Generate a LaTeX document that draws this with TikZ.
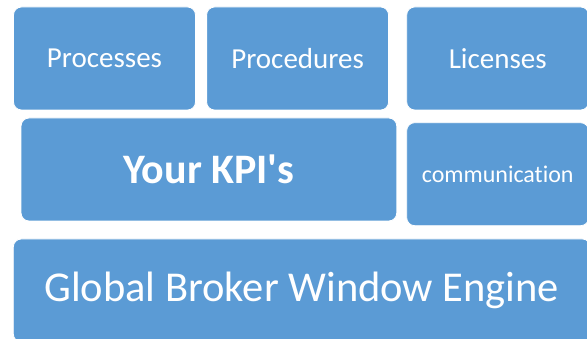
\documentclass[tikz,border=0pt]{standalone}
\usepackage{fontspec}
\setmainfont{Carlito}[Ligatures={NoCommon}]
\definecolor{tile}{HTML}{5B9BD5}
\tikzset{
  tilebox/.style={draw=white, line width=0.8pt, fill=tile, rounded corners=8pt,
    text=white, inner sep=0pt, minimum height=103pt},
}
\begin{document}
\begin{tikzpicture}[x=1pt,y=1pt]
\useasboundingbox (0,0) rectangle (587,339);
\clip (0,0) rectangle (587,339);
\fill[white] (0,0) rectangle (587,339);
\node[tilebox, minimum width=182pt, font=\fontsize{29}{32}\selectfont] (proc) at (104.5,280.5) {Processes};
\node[tilebox, minimum width=182pt, font=\fontsize{29}{32}\selectfont] (procd) at (297.6,280.5) {Procedures};
\node[tilebox, minimum width=182pt, font=\fontsize{29}{32}\selectfont] (lic) at (497.7,280.5) {Licenses};
\node[tilebox, minimum width=375.7pt, font=\fontsize{42}{47}\selectfont\bfseries] (kpi) at (208.9,169.5) {Your KPI\textquotesingle s};
\node[tilebox, minimum width=182pt, font=\fontsize{24}{28}\selectfont] (comm) at (497.7,164.8) {communication};
\node[tilebox, minimum width=577pt, font=\fontsize{42.5}{48}\selectfont] (glob) at (301.8,48.5) {Global Broker Window Engine};
\end{tikzpicture}
\end{document}
